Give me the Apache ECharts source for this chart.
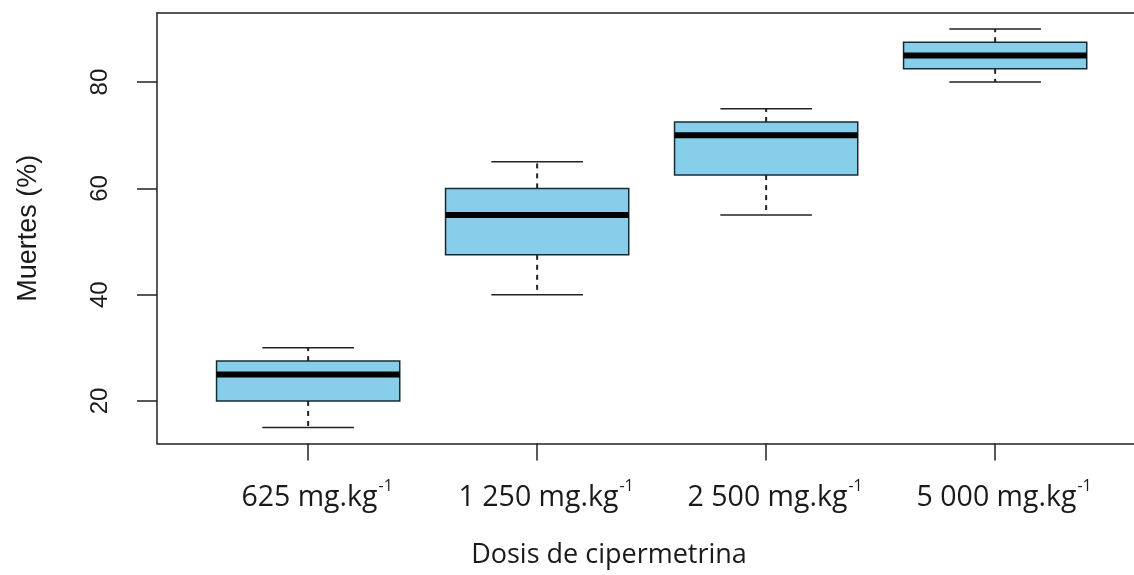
<!DOCTYPE html>
<html><head><meta charset="utf-8">
<script src="https://cdn.jsdelivr.net/npm/echarts@6/dist/echarts.min.js"></script>
<style>html,body{margin:0;padding:0;background:#fff}#c{width:1134px;height:575px}</style>
</head><body><div id="c"></div>
<script>
const categories = ['625', '1 250', '2 500', '5 000'];
const mins    = [15, 40, 55, 80];
const q1s     = [20, 47.5, 62.5, 82.5];
const medians = [25, 55, 70, 85];
const q3s     = [27.5, 60, 72.5, 87.5];
const maxs    = [30, 65, 75, 90];
const yTicks  = [20, 40, 60, 80];
const xPositions = [1, 2, 3, 4];

const data = categories.map((c, i) => [xPositions[i], mins[i], q1s[i], medians[i], q3s[i], maxs[i]]);
const lineCol = '#222';

const chart = echarts.init(document.getElementById('c'), null, {renderer: 'canvas'});
chart.setOption({
  animation: false,
  backgroundColor: '#fff',
  grid: {left: 157, top: 13, width: 977, height: 430.5, show: false},
  xAxis: [{
    type: 'value', min: 0.34, max: 0.34 + 977 / 229,
    splitLine: {show: false},
    axisLine: {show: true, onZero: false, lineStyle: {color: lineCol, width: 1.5}},
    axisTick: {show: true, length: 17, customValues: xPositions, lineStyle: {color: lineCol, width: 1.5}},
    axisLabel: {
      customValues: xPositions, margin: 35, padding: [0, 0, 0, 18],
      formatter: v => '{b|' + categories[v - 1] + ' mg.kg}{s|-1}',
      rich: {
        b: {fontFamily: 'Open Sans', fontSize: 28.5, color: '#1a1a1a', lineHeight: 34, verticalAlign: 'bottom'},
        s: {fontFamily: 'Open Sans', fontSize: 16, color: '#1a1a1a', lineHeight: 34, verticalAlign: 'top', padding: [0, 0, 8, 1]}
      }
    },
    name: 'Dosis de cipermetrina', nameLocation: 'middle', nameGap: 98,
    nameTextStyle: {fontFamily: 'Open Sans', fontSize: 27, color: '#1a1a1a', padding: [0, 73, 0, 0]}
  }, {
    type: 'value', position: 'top', min: 0.34, max: 0.34 + 977 / 229,
    splitLine: {show: false},
    axisLine: {show: true, onZero: false, lineStyle: {color: lineCol, width: 1.5}},
    axisTick: {show: false}, axisLabel: {show: false}
  }],
  yAxis: {
    type: 'value', min: 12, max: 93,
    splitLine: {show: false},
    axisLine: {show: true, onZero: false, lineStyle: {color: lineCol, width: 1.5}},
    axisTick: {show: true, length: 20, customValues: yTicks, lineStyle: {color: lineCol, width: 1.5}},
    axisLabel: {customValues: yTicks, rotate: 90, margin: 45, fontFamily: 'Liberation Sans', fontSize: 24, color: '#1a1a1a'},
    name: 'Muertes (%)', nameLocation: 'middle', nameRotate: 90, nameGap: 115,
    nameTextStyle: {fontFamily: 'Liberation Sans', fontSize: 27, color: '#1a1a1a'}
  },
  series: [{
    type: 'custom',
    xAxisIndex: 0,
    data: data,
    encode: {x: 0, y: [1, 2, 3, 4, 5]},
    renderItem: function (params, api) {
      const x = api.value(0);
      const bw = api.size([0.8, 0])[0];
      const cw = api.size([0.4, 0])[0];
      const pMin = api.coord([x, api.value(1)]);
      const pQ1 = api.coord([x, api.value(2)]);
      const pMed = api.coord([x, api.value(3)]);
      const pQ3 = api.coord([x, api.value(4)]);
      const pMax = api.coord([x, api.value(5)]);
      const cx = pMed[0];
      const solid = {stroke: lineCol, lineWidth: 1.5};
      const dashed = {stroke: lineCol, lineWidth: 2, lineDash: [5, 5]};
      return {
        type: 'group',
        children: [
          {type: 'line', shape: {x1: cx, y1: pQ3[1], x2: cx, y2: pMax[1]}, style: dashed},
          {type: 'line', shape: {x1: cx, y1: pQ1[1], x2: cx, y2: pMin[1]}, style: dashed},
          {type: 'line', shape: {x1: cx - cw / 2, y1: pMax[1], x2: cx + cw / 2, y2: pMax[1]}, style: solid},
          {type: 'line', shape: {x1: cx - cw / 2, y1: pMin[1], x2: cx + cw / 2, y2: pMin[1]}, style: solid},
          {type: 'rect', shape: {x: cx - bw / 2, y: pQ3[1], width: bw, height: pQ1[1] - pQ3[1]},
            style: {fill: '#87CEEB', stroke: '#1a2a33', lineWidth: 1.5}},
          {type: 'line', shape: {x1: cx - bw / 2, y1: pMed[1], x2: cx + bw / 2, y2: pMed[1]}, style: {stroke: '#000', lineWidth: 6}}
        ]
      };
    }
  }]
});
</script></body></html>
